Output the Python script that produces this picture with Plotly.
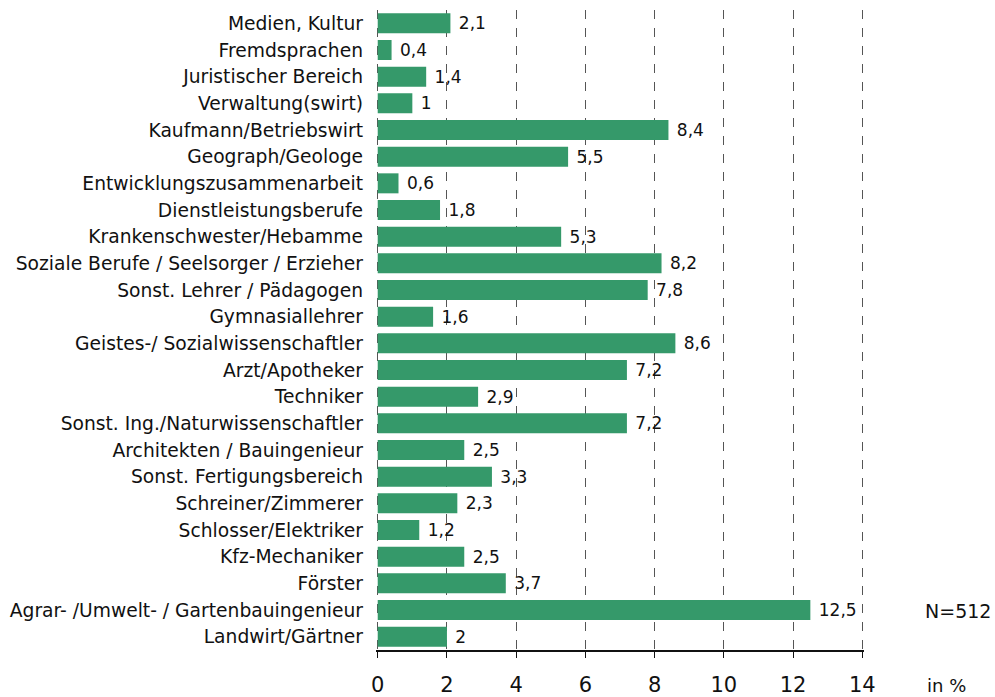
import plotly.graph_objects as go

# Berufsfelder (von oben nach unten) und Anteile in %
categories = [
    "Medien, Kultur",
    "Fremdsprachen",
    "Juristischer Bereich",
    "Verwaltung(swirt)",
    "Kaufmann/Betriebswirt",
    "Geograph/Geologe",
    "Entwicklungszusammenarbeit",
    "Dienstleistungsberufe",
    "Krankenschwester/Hebamme",
    "Soziale Berufe / Seelsorger / Erzieher",
    "Sonst. Lehrer / Pädagogen",
    "Gymnasiallehrer",
    "Geistes-/ Sozialwissenschaftler",
    "Arzt/Apotheker",
    "Techniker",
    "Sonst. Ing./Naturwissenschaftler",
    "Architekten / Bauingenieur",
    "Sonst. Fertigungsbereich",
    "Schreiner/Zimmerer",
    "Schlosser/Elektriker",
    "Kfz-Mechaniker",
    "Förster",
    "Agrar- /Umwelt- / Gartenbauingenieur",
    "Landwirt/Gärtner",
]
values = [2.1, 0.4, 1.4, 1.0, 8.4, 5.5, 0.6, 1.8, 5.3, 8.2, 7.8, 1.6,
          8.6, 7.2, 2.9, 7.2, 2.5, 3.3, 2.3, 1.2, 2.5, 3.7, 12.5, 2.0]
x_ticks = [0, 2, 4, 6, 8, 10, 12, 14]

# Werte mit Dezimalkomma, kleiner Abstand zum Balkenende
labels = ["\u00a0" + f"{v:g}".replace(".", ",") for v in values]

font_family = "DejaVu Sans, Liberation Sans, Arial, sans-serif"

fig = go.Figure(
    go.Bar(
        x=values,
        y=categories,
        orientation="h",
        marker=dict(color="#35996A", line=dict(width=0)),
        text=labels,
        textposition="outside",
        constraintext="none",
        textfont=dict(size=17, color="#111111", family=font_family),
        cliponaxis=False,
    )
)

fig.update_layout(
    width=995,
    height=697,
    margin=dict(l=376, r=131, t=10, b=47, autoexpand=False),
    plot_bgcolor="white",
    paper_bgcolor="white",
    bargap=0.25,
    showlegend=False,
    font=dict(family=font_family, color="#111111"),
    xaxis=dict(
        range=[-0.05, 14.05],
        tickvals=x_ticks,
        ticktext=[str(t) for t in x_ticks],
        tickfont=dict(size=21),
        ticks="outside",
        ticklen=6,
        tickcolor="#111111",
        ticklabelstandoff=9,
        automargin=False,
        showline=True,
        linecolor="#111111",
        linewidth=1.5,
        showgrid=True,
        gridcolor="#555555",
        griddash="dash",
        gridwidth=1.2,
        zeroline=False,
    ),
    yaxis=dict(
        type="category",
        range=[23.5, -0.5],
        tickfont=dict(size=18.7),
        ticks="",
        ticklabelstandoff=12,
        automargin=False,
        showgrid=False,
        showline=False,
        zeroline=False,
    ),
    annotations=[
        dict(text="N=512", x=1.264, xref="paper", xanchor="right",
             y="Agrar- /Umwelt- / Gartenbauingenieur", yref="y",
             yshift=-1, showarrow=False, font=dict(size=19)),
        dict(text="in %", x=1.17, xref="paper", xanchor="center",
             y=-0.055, yref="paper", yanchor="middle",
             showarrow=False, font=dict(size=18)),
    ],
)

fig.write_html("out.html")
